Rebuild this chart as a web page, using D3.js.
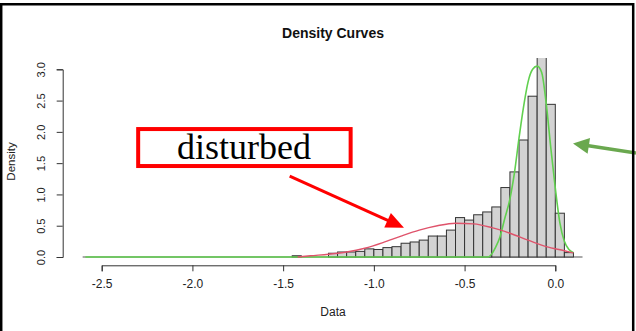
<!DOCTYPE html>
<html><head><meta charset="utf-8">
<script src="https://cdn.jsdelivr.net/npm/d3@7"></script>
<style>body{margin:0;background:#fff}svg{display:block}</style>
</head><body><svg id="c" width="636" height="331"></svg>
<script>
// ---------- data ----------
const binStarts = [-1.45,-1.40,-1.35,-1.30,-1.25,-1.20,-1.15,-1.10,-1.05,-1.00,-0.95,-0.90,-0.85,-0.80,-0.75,-0.70,-0.65,-0.60,-0.55,-0.50,-0.45,-0.40,-0.35,-0.30,-0.25,-0.20,-0.15,-0.10,-0.05,0.00,0.05];
const binDensity = [0.02,0,0,0,0.06,0.08,0.08,0.09,0.13,0.12,0.15,0.165,0.22,0.24,0.27,0.335,0.335,0.43,0.63,0.59,0.675,0.72,0.80,1.11,1.36,1.87,2.57,3.74,2.44,0.70,0.07];
const binWidth = 0.05;
const greenX = [-2.59,-0.37,-0.35,-0.33,-0.305,-0.28,-0.25,-0.225,-0.20,-0.175,-0.15,-0.125,-0.10,-0.075,-0.05,-0.025,0.0,0.025,0.05,0.075,0.10];
const greenY = [0,0,0.05,0.15,0.32,0.6,0.93,1.35,1.9,2.4,2.8,3.0,3.05,2.95,2.45,1.75,1.1,0.55,0.25,0.12,0.07];
const redX = [-1.42,-1.35,-1.25,-1.15,-1.05,-0.95,-0.85,-0.75,-0.65,-0.55,-0.45,-0.35,-0.25,-0.15,-0.05,0.05,0.10];
const redY = [0.0,0.02,0.045,0.08,0.14,0.23,0.335,0.43,0.50,0.54,0.53,0.47,0.38,0.27,0.165,0.10,0.065];
const xTicks = [-2.5,-2.0,-1.5,-1.0,-0.5,0.0];
const yTicks = [0,0.5,1.0,1.5,2.0,2.5,3.0];
const titleText = "Density Curves";
const xLabel = "Data";
const yLabel = "Density";
const noteText = "disturbed";

// ---------- layout ----------
const svg = d3.select("#c");
const x = d3.scaleLinear().domain([-2.5, 0]).range([101.7, 555.3]);
const y = d3.scaleLinear().domain([0, 3]).range([257, 69.3]);
const fmt = v => (v < 0 ? "-" : "") + Math.abs(v).toFixed(1);

svg.append("defs").append("clipPath").attr("id","plotclip")
  .append("rect").attr("x",0).attr("y",58).attr("width",636).attr("height",273);

const plot = svg.append("g").attr("clip-path","url(#plotclip)");

// baseline
plot.append("line")
  .attr("x1", x(-2.605)).attr("x2", x(0.15))
  .attr("y1", y(0)).attr("y2", y(0))
  .attr("stroke","#555").attr("stroke-width",1.2);

// histogram
plot.selectAll("rect.bar").data(binStarts).join("rect")
  .attr("class","bar")
  .attr("x", d => x(d))
  .attr("width", d => x(d + binWidth) - x(d))
  .attr("y", (d,i) => y(binDensity[i]))
  .attr("height", (d,i) => y(0) - y(binDensity[i]))
  .attr("fill","#d3d3d3").attr("stroke","#333").attr("stroke-width",1);

const line = d3.line().x(d => x(d[0])).y(d => y(d[1])).curve(d3.curveMonotoneX);
plot.append("path").datum(greenX.map((v,i)=>[v,greenY[i]]))
  .attr("d", line).attr("fill","none").attr("stroke","#61D04F").attr("stroke-width",1.6);
plot.append("path").datum(redX.map((v,i)=>[v,redY[i]]))
  .attr("d", line).attr("fill","none").attr("stroke","#DF536B").attr("stroke-width",1.4);

// axes
const xAxis = svg.append("g").attr("transform","translate(0,265.3)")
  .call(d3.axisBottom(x).tickValues(xTicks).tickFormat(fmt).tickSizeOuter(0).tickSize(6).tickPadding(8));
xAxis.selectAll("path,line").attr("stroke","#333");
xAxis.selectAll("text").attr("fill","#222").style("font-family","'Liberation Sans',Arial,sans-serif").style("font-size","12px");

const yAxis = svg.append("g").attr("transform","translate(62.7,0)")
  .call(d3.axisLeft(y).tickValues(yTicks).tickFormat(fmt).tickSizeOuter(0).tickSize(6));
yAxis.selectAll("path,line").attr("stroke","#333");
yAxis.selectAll("text")
  .attr("transform","rotate(-90)").attr("x",0).attr("y",-18).attr("dy","0")
  .style("text-anchor","middle").attr("fill","#222")
  .style("font-family","'Liberation Sans',Arial,sans-serif").style("font-size","11px");

// titles
svg.append("text").attr("x",333).attr("y",38).attr("text-anchor","middle")
  .style("font-family","'Liberation Sans',Arial,sans-serif").style("font-size","14px").style("font-weight","bold")
  .attr("fill","#111").text(titleText);
svg.append("text").attr("x",333).attr("y",316).attr("text-anchor","middle")
  .style("font-family","'Liberation Sans',Arial,sans-serif").style("font-size","12px")
  .attr("fill","#222").text(xLabel);
svg.append("text").attr("transform","translate(15,161.5) rotate(-90)").attr("text-anchor","middle")
  .style("font-family","'Liberation Sans',Arial,sans-serif").style("font-size","11.5px")
  .attr("fill","#222").text(yLabel);

// annotations
function arrow(x1,y1,x2,y2,color,w,L,W){
  const dx=x2-x1, dy=y2-y1, len=Math.hypot(dx,dy), ux=dx/len, uy=dy/len;
  const bx=x2-ux*L, by=y2-uy*L;
  svg.append("line").attr("x1",x1).attr("y1",y1).attr("x2",bx+ux*2).attr("y2",by+uy*2)
    .attr("stroke",color).attr("stroke-width",w);
  svg.append("path").attr("d",`M${x2},${y2}L${bx-uy*W},${by+ux*W}L${bx+uy*W},${by-ux*W}Z`).attr("fill",color);
}
svg.append("rect").attr("x",x(-2.299)).attr("y",y(2.045))
  .attr("width",x(-1.128)-x(-2.299)).attr("height",y(1.454)-y(2.045))
  .attr("fill","#fff").attr("stroke","#ff0000").attr("stroke-width",4);
svg.append("text").attr("x",x(-1.716)).attr("y",y(1.561)).attr("text-anchor","middle")
  .style("font-family","'Liberation Serif','Times New Roman',serif").style("font-size","36px")
  .attr("fill","#000").text(noteText);
arrow(x(-1.464),y(1.294),x(-0.834),y(0.468),"#ff0000",3,18,8);
arrow(x(0.445),y(1.661),x(0.0976),y(1.816),"#6aa84f",3.5,16,8);

// frame
svg.append("path").attr("d","M1.2,331V4.2H633.2V331").attr("fill","none").attr("stroke","#000").attr("stroke-width",2.5);
</script></body></html>
